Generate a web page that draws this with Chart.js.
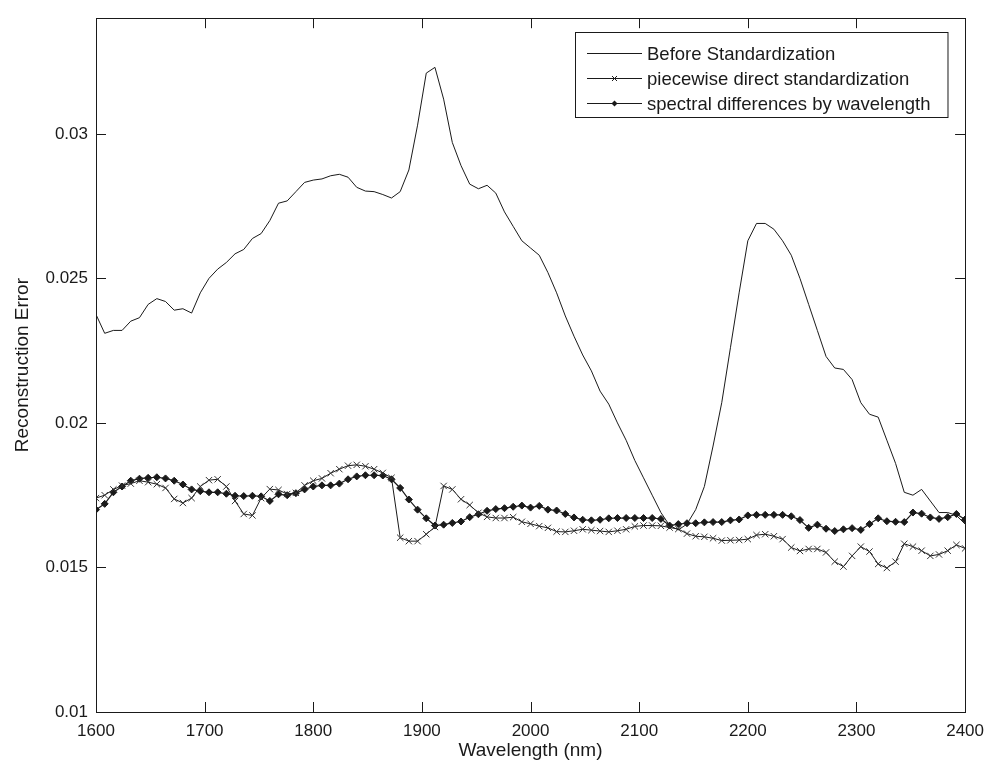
<!DOCTYPE html>
<html>
<head>
<meta charset="utf-8">
<title>Reconstruction Error</title>
<script src="https://cdn.jsdelivr.net/npm/chart.js@4.4.0/dist/chart.umd.min.js"></script>
<style>
    body { margin: 0; background: #fff; }
    #chart { display: block; }
</style>
</head>
<body>
<canvas id="chart" width="993" height="763"></canvas>
<script>
// wavelengths (nm), one reading every 8 nm
const wavelengths = [
    1600,1608,1616,1624,1632,1640,1648,1656,1664,1672,1680,1688,1696,1704,1712,1720,1728,1736,1744,1752,
    1760,1768,1776,1784,1792,1800,1808,1816,1824,1832,1840,1848,1856,1864,1872,1880,1888,1896,1904,1912,
    1920,1928,1936,1944,1952,1960,1968,1976,1984,1992,2000,2008,2016,2024,2032,2040,2048,2056,2064,2072,
    2080,2088,2096,2104,2112,2120,2128,2136,2144,2152,2160,2168,2176,2184,2192,2200,2208,2216,2224,2232,
    2240,2248,2256,2264,2272,2280,2288,2296,2304,2312,2320,2328,2336,2344,2352,2360,2368,2376,2384,2392,
    2400
];

const beforeStd = [
    0.02375,0.0231,0.0232,0.0232,0.02352,0.02364,0.0241,0.0243,0.0242,0.0239,0.02395,0.0238,0.0245,0.0250,0.02532,0.02555,0.02585,0.0260,0.02638,0.02655,
    0.0270,0.0276,0.02768,0.0280,0.02832,0.0284,0.02844,0.02855,0.0286,0.0285,0.02815,0.02802,0.0280,0.0279,0.02778,0.0280,0.02875,0.0303,0.0321,0.0323,
    0.0312,0.0297,0.0289,0.02826,0.0281,0.02822,0.02795,0.0273,0.0268,0.0263,0.02605,0.0258,0.0252,0.0245,0.0237,0.0230,0.02235,0.0218,0.0211,0.02065,
    0.0200,0.0194,0.0187,0.0181,0.0175,0.0169,0.01645,0.0163,0.0165,0.0170,0.0178,0.0192,0.0207,0.0226,0.0245,0.0263,0.0269,0.0269,0.0267,0.0263,
    0.0258,0.0250,0.0241,0.0232,0.0223,0.0219,0.02185,0.0215,0.0207,0.0203,0.0202,0.0194,0.0186,0.0176,0.0175,0.0177,0.0173,0.0169,0.0169,0.0168,
    0.0165
];

const pdsError = [
    0.0174,0.0175,0.0177,0.01783,0.0179,0.0180,0.01795,0.01788,0.01775,0.01737,0.01723,0.0174,0.0178,0.01802,0.01805,0.0178,0.0173,0.01685,0.0168,0.0174,
    0.01771,0.01768,0.01754,0.01758,0.01784,0.0180,0.01808,0.01826,0.0184,0.01852,0.01855,0.0185,0.0184,0.01827,0.0181,0.01603,0.01591,0.01591,0.01615,0.0164,
    0.01782,0.0177,0.01736,0.01716,0.01689,0.01675,0.01671,0.01671,0.01674,0.01658,0.01651,0.01643,0.01637,0.01624,0.01623,0.01627,0.01632,0.01629,0.01626,0.01623,
    0.01627,0.01632,0.01642,0.01645,0.01645,0.01644,0.01638,0.01633,0.01617,0.01608,0.01606,0.01601,0.01593,0.01594,0.01595,0.01598,0.01612,0.01615,0.01608,0.01598,
    0.01569,0.01557,0.01564,0.01564,0.01552,0.0152,0.01503,0.0154,0.01572,0.01555,0.01512,0.01498,0.0152,0.01582,0.01572,0.01558,0.0154,0.01545,0.01558,0.01578,
    0.01566
];

const sdwError = [
    0.0170,0.0172,0.0176,0.0178,0.0180,0.01807,0.0181,0.01812,0.01808,0.0180,0.01787,0.0177,0.01764,0.0176,0.0176,0.01755,0.01748,0.01747,0.01748,0.01746,
    0.0173,0.01753,0.0175,0.01757,0.0177,0.0178,0.01784,0.01784,0.0179,0.01805,0.01815,0.01819,0.01819,0.01818,0.01805,0.01775,0.01735,0.0170,0.0167,0.01645,
    0.01648,0.01654,0.01659,0.01674,0.01684,0.01696,0.01702,0.01705,0.0171,0.01714,0.01707,0.01713,0.0170,0.01697,0.01685,0.01673,0.01665,0.01663,0.01665,0.0167,
    0.01671,0.01671,0.01671,0.01671,0.01671,0.01668,0.01645,0.0165,0.01653,0.01653,0.01656,0.01657,0.01657,0.01663,0.01666,0.0168,0.01682,0.01682,0.01682,0.01682,
    0.01677,0.01664,0.01637,0.01648,0.01634,0.01626,0.01632,0.01636,0.0163,0.0165,0.0167,0.0166,0.01658,0.01657,0.0169,0.01686,0.01673,0.01668,0.01674,0.01685,
    0.01666
];

const seriesNames = ["Before Standardization", "piecewise direct standardization", "spectral differences by wavelength"];
const xTicks = [1600,1700,1800,1900,2000,2100,2200,2300,2400];
const yTicks = [0.01,0.015,0.02,0.025,0.03];
const yTickLabels = ["0.01","0.015","0.02","0.025","0.03"];

const FONT = "'Liberation Sans', Arial, sans-serif";
const INK = "#1a1a1a";
const TICK_LEN = 10;

function toPoints(vals) {
    return wavelengths.map(function(w, i){ return {x: w, y: vals[i]}; });
}

// matlab style box with inward ticks on all four sides + legend box
const matlabFrame = {
    id: 'matlabFrame',
    afterDraw: function(chart) {
        var ctx = chart.ctx;
        var a = chart.chartArea;
        var sx = chart.scales.x, sy = chart.scales.y;
        ctx.save();
        ctx.strokeStyle = INK;
        ctx.lineWidth = 1;
        ctx.strokeRect(Math.round(a.left) + 0.5, Math.round(a.top) + 0.5, Math.round(a.right - a.left), Math.round(a.bottom - a.top));
        ctx.beginPath();
        sx.ticks.forEach(function(t){
            var px = Math.round(sx.getPixelForValue(t.value)) + 0.5;
            ctx.moveTo(px, a.bottom); ctx.lineTo(px, a.bottom - TICK_LEN);
            ctx.moveTo(px, a.top); ctx.lineTo(px, a.top + TICK_LEN);
        });
        sy.ticks.forEach(function(t){
            var py = Math.round(sy.getPixelForValue(t.value)) + 0.5;
            ctx.moveTo(a.left, py); ctx.lineTo(a.left + TICK_LEN, py);
            ctx.moveTo(a.right, py); ctx.lineTo(a.right - TICK_LEN, py);
        });
        ctx.stroke();

        // legend
        var boxL = 575, boxT = 32, rowH = 25;
        var lineX0 = 587, lineX1 = 642, textX = 647;
        ctx.font = "18.5px " + FONT;
        var maxW = 0;
        seriesNames.forEach(function(n){ maxW = Math.max(maxW, ctx.measureText(n).width); });
        var boxR = textX + maxW + 17;
        var boxB = boxT + rowH * seriesNames.length + 10;
        ctx.fillStyle = "#fff";
        ctx.fillRect(boxL, boxT, boxR - boxL, boxB - boxT);
        ctx.strokeRect(boxL + 0.5, boxT + 0.5, boxR - boxL, boxB - boxT);
        ctx.textBaseline = "middle";
        seriesNames.forEach(function(n, i){
            var cy = Math.round(boxT + 21 + i * rowH) + 0.5;
            var cx = (lineX0 + lineX1) / 2;
            ctx.beginPath();
            ctx.moveTo(lineX0, cy); ctx.lineTo(lineX1, cy);
            ctx.stroke();
            if (i == 1) {
                ctx.beginPath();
                ctx.moveTo(cx - 2.5, cy - 2.5); ctx.lineTo(cx + 2.5, cy + 2.5);
                ctx.moveTo(cx - 2.5, cy + 2.5); ctx.lineTo(cx + 2.5, cy - 2.5);
                ctx.stroke();
            } else if (i == 2) {
                ctx.fillStyle = INK;
                ctx.beginPath();
                ctx.moveTo(cx, cy - 3); ctx.lineTo(cx + 3, cy); ctx.lineTo(cx, cy + 3); ctx.lineTo(cx - 3, cy);
                ctx.closePath();
                ctx.fill();
            }
            ctx.fillStyle = INK;
            ctx.fillText(n, textX, cy + 1);
        });
        ctx.restore();
    }
};

var chart = new Chart(document.getElementById('chart'), {
    type: 'line',
    data: {
        datasets: [
            {label: seriesNames[0], data: toPoints(beforeStd), borderColor: INK, borderWidth: 1, pointRadius: 0, tension: 0},
            {label: seriesNames[1], data: toPoints(pdsError), borderColor: INK, borderWidth: 1, tension: 0,
                pointStyle: 'crossRot', pointRadius: 4.5, pointBorderWidth: 1, pointBorderColor: "#333"},
            {label: seriesNames[2], data: toPoints(sdwError), borderColor: INK, borderWidth: 1.2, tension: 0,
                pointStyle: 'rectRot', pointRadius: 3.5, pointBorderWidth: 1, pointBackgroundColor: INK, pointBorderColor: INK}
        ]
    },
    options: {
        responsive: false,
        animation: false,
        devicePixelRatio: 1,
        layout: {padding: {top: 13, right: 22, bottom: 0, left: 0}},
        plugins: {
            legend: {display: false},
            tooltip: {enabled: false}
        },
        scales: {
            x: {
                type: 'linear',
                min: 1600,
                max: 2400,
                afterBuildTicks: function(s){ s.ticks = xTicks.map(function(v){ return {value: v}; }); },
                afterFit: function(s){ s.height = 51; },
                grid: {display: false, drawTicks: false},
                border: {display: false},
                ticks: {padding: 9, color: INK, font: {family: FONT, size: 17}, maxRotation: 0,
                    callback: function(v){ return String(v); }},
                title: {display: true, text: "Wavelength (nm)", color: INK, font: {family: FONT, size: 19}, padding: {top: 0, bottom: 1}}
            },
            y: {
                type: 'linear',
                min: 0.01,
                max: 0.034,
                afterBuildTicks: function(s){ s.ticks = yTicks.map(function(v){ return {value: v}; }); },
                afterFit: function(s){ s.width = 96; },
                grid: {display: false, drawTicks: false},
                border: {display: false},
                ticks: {padding: 8, color: INK, font: {family: FONT, size: 17},
                    callback: function(v, i){ return yTickLabels[i]; }},
                title: {display: true, text: "Reconstruction Error", color: INK, font: {family: FONT, size: 19}, padding: {top: 11, bottom: 0}}
            }
        }
    },
    plugins: [matlabFrame]
});
</script>
</body>
</html>
